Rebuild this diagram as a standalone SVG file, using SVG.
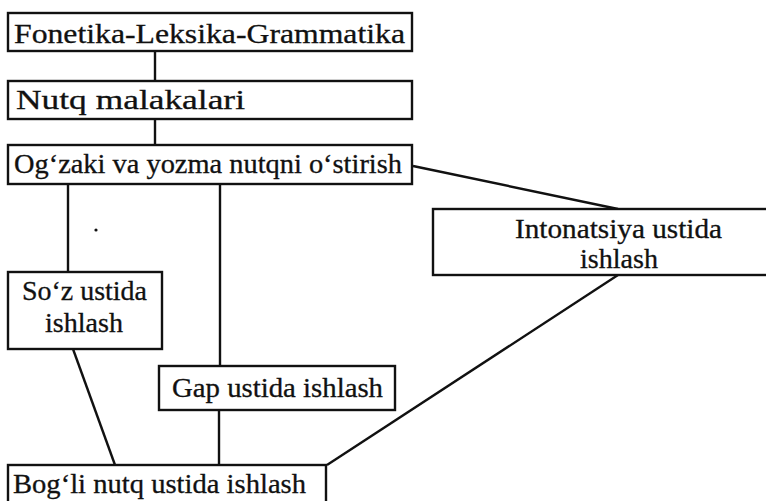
<svg xmlns="http://www.w3.org/2000/svg" width="766" height="501" viewBox="0 0 766 501">
<style>
.box{fill:#fff;stroke:#111;stroke-width:2.4}
.t{font-family:"Liberation Serif","Times New Roman",serif;font-size:27px;fill:#111;stroke:#111;stroke-width:0.3}
.c{stroke:#111;stroke-width:2.4;fill:none}
</style>
<rect width="766" height="501" fill="#fff"/>
<g id="connectors">
<line class="c" x1="155" y1="52" x2="155" y2="81"/>
<line class="c" x1="155" y1="119" x2="155" y2="145"/>
<line class="c" x1="68" y1="184" x2="68" y2="272"/>
<line class="c" x1="220" y1="184" x2="220" y2="366"/>
<line class="c" x1="413" y1="166" x2="618" y2="209"/>
<line class="c" x1="73" y1="349" x2="115" y2="465"/>
<line class="c" x1="219" y1="410" x2="219" y2="465"/>
<line class="c" x1="618" y1="275" x2="327" y2="465"/>
</g>
<g id="n1">
<rect class="box" x="8" y="13" width="404" height="38"/>
<text class="t" x="14" y="43" textLength="391" lengthAdjust="spacingAndGlyphs">Fonetika-Leksika-Grammatika</text>
</g>
<g id="n2">
<rect class="box" x="8" y="81" width="404" height="38"/>
<text class="t" x="16" y="109" textLength="229" lengthAdjust="spacingAndGlyphs">Nutq malakalari</text>
</g>
<g id="n3">
<rect class="box" x="8" y="145" width="404" height="39"/>
<text class="t" x="14" y="173" textLength="388" lengthAdjust="spacingAndGlyphs">Og‘zaki va yozma nutqni o‘stirish</text>
</g>
<g id="n4">
<rect class="box" x="433" y="209" width="370" height="66"/>
<text class="t" x="515" y="238" textLength="207" lengthAdjust="spacingAndGlyphs">Intonatsiya ustida</text>
<text class="t" x="580" y="268" textLength="78" lengthAdjust="spacingAndGlyphs">ishlash</text>
</g>
<g id="n5">
<rect class="box" x="8" y="272" width="154" height="77"/>
<text class="t" x="22" y="300" textLength="125" lengthAdjust="spacingAndGlyphs">So‘z ustida</text>
<text class="t" x="45" y="332" textLength="78" lengthAdjust="spacingAndGlyphs">ishlash</text>
</g>
<g id="n6">
<rect class="box" x="159" y="366" width="236" height="44"/>
<text class="t" x="172" y="397" textLength="211" lengthAdjust="spacingAndGlyphs">Gap ustida ishlash</text>
</g>
<g id="n7">
<rect class="box" x="8" y="465" width="318" height="40"/>
<text class="t" x="13" y="493" textLength="293" lengthAdjust="spacingAndGlyphs">Bog‘li nutq ustida ishlash</text>
</g>
<circle cx="96" cy="230" r="1.6" fill="#111"/>
</svg>
